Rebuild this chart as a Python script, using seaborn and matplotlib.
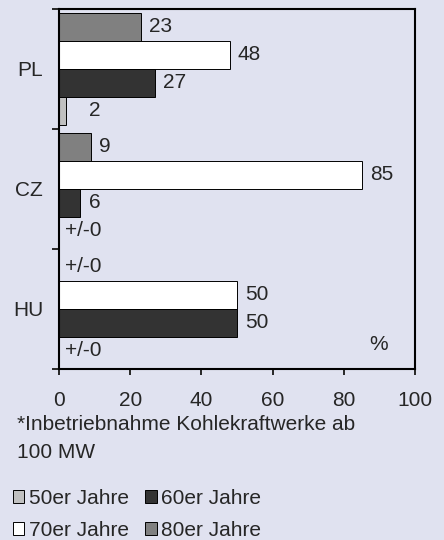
import matplotlib
matplotlib.use("Agg")
import matplotlib.pyplot as plt
from matplotlib.patches import Patch
import seaborn as sns
import pandas as pd

countries = ["PL", "CZ", "HU"]
decades = ["80er Jahre", "70er Jahre", "60er Jahre", "50er Jahre"]  # top to bottom in each group
values_80er = [23, 9, 0]
values_70er = [48, 85, 50]
values_60er = [27, 6, 50]
values_50er = [2, 0, 0]
x_ticks = [0, 20, 40, 60, 80, 100]
footnote_1 = "*Inbetriebnahme Kohlekraftwerke ab"
footnote_2 = "100 MW"
unit_label = "%"
zero_label = "+/-0"

colors = {"80er Jahre": "#808080", "70er Jahre": "#ffffff",
          "60er Jahre": "#333333", "50er Jahre": "#c0c0c0"}
bg = "#e0e2f0"

series = {"80er Jahre": values_80er, "70er Jahre": values_70er,
          "60er Jahre": values_60er, "50er Jahre": values_50er}
rows = []
for d in decades:
    for c, v in zip(countries, series[d]):
        rows.append({"country": c, "decade": d, "value": v})
df = pd.DataFrame(rows)

sns.set_style("white")
plt.rcParams["font.family"] = ["Liberation Sans", "DejaVu Sans"]
FS = 15

fig = plt.figure(figsize=(4.44, 5.40), dpi=100, facecolor=bg)
ax = fig.add_axes([59 / 444, 1 - 369 / 540, 356 / 444, 360 / 540])
ax.set_facecolor(bg)

sns.barplot(data=df, x="value", y="country", hue="decade", hue_order=decades,
            order=countries, palette=colors, orient="h", width=112 / 120,
            edgecolor="black", linewidth=0.7, ax=ax, legend=False, errorbar=None)

ax.set_xlim(0, 100)
ax.set_ylim(2.5, -0.5)
ax.set_xticks(x_ticks)
ax.set_xticklabels([str(t) for t in x_ticks], fontsize=FS)
ax.set_yticks(range(len(countries)))
ax.set_yticklabels(countries, fontsize=FS)
ax.set_yticks([-0.5, 0.5, 1.5, 2.5], minor=True)
ax.set_xlabel("")
ax.set_ylabel("")
ax.tick_params(axis="y", which="major", length=0, pad=11.5)
ax.tick_params(axis="y", which="minor", length=5, width=1.4, direction="out", left=True)
ax.tick_params(axis="x", which="major", length=4.5, width=1.4, direction="out", bottom=True, pad=11)
for s in ax.spines.values():
    s.set_visible(True)
    s.set_linewidth(1.5)
    s.set_color("black")

# value labels
n = len(decades)
w = 112 / 120
for i, d in enumerate(decades):
    for j, (c, v) in enumerate(zip(countries, series[d])):
        y = j - w / 2 + w / n * (i + 0.5)
        if v == 0:
            ax.annotate(zero_label, (0, y), xytext=(4.5, 0), textcoords="offset points",
                        va="center", ha="left", fontsize=FS)
        else:
            ax.annotate(str(v), (max(v, 6.3), y), xytext=(5.8, 0), textcoords="offset points",
                        va="center", ha="left", fontsize=FS)

ax.text(0.897, 0.067, unit_label, transform=ax.transAxes, ha="center", va="center", fontsize=FS)

fig.text(17 / 444, 1 - 424 / 540, footnote_1, ha="left", va="center", fontsize=FS)
fig.text(17 / 444, 1 - 453 / 540, footnote_2, ha="left", va="center", fontsize=FS)

legend_order = ["50er Jahre", "70er Jahre", "60er Jahre", "80er Jahre"]
handles = [Patch(facecolor=colors[d], edgecolor="black", linewidth=0.7) for d in legend_order]
fig.legend(handles, legend_order, loc="upper left", bbox_to_anchor=(13 / 444, 1 - 489 / 540),
           ncol=2, frameon=False, fontsize=FS, handlelength=0.55, handleheight=0.55,
           handletextpad=0.2, columnspacing=0.8, labelspacing=0.62, borderpad=0,
           borderaxespad=0)

fig.savefig("out.png", dpi=100, facecolor=bg)
